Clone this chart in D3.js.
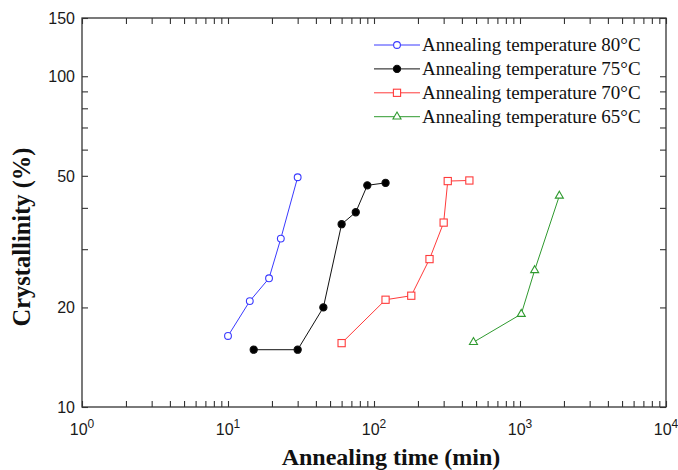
<!DOCTYPE html>
<html>
<head>
<meta charset="utf-8">
<script src="https://cdn.jsdelivr.net/npm/d3@7"></script>
<style>
  body { margin: 0; background: #fff; }
  svg { display: block; }
</style>
</head>
<body>
<svg id="chart" width="678" height="470"></svg>
<script>
// values (time in min, crystallinity in %)
const times80 = [10, 14.1, 19.1, 23, 30];
const cryst80 = [16.4, 20.9, 24.5, 32.3, 49.5];
const times75 = [15, 30, 45, 60, 75, 90, 120];
const cryst75 = [14.9, 14.9, 20.0, 35.7, 38.8, 46.8, 47.6];
const times70 = [60, 120, 180, 240, 300, 320, 450];
const cryst70 = [15.6, 21.1, 21.7, 28.0, 36.1, 48.2, 48.4];
const times65 = [480, 1020, 1260, 1860];
const cryst65 = [15.7, 19.1, 25.9, 43.5];

const seriesNames = ['Annealing temperature 80°C', 'Annealing temperature 75°C',
  'Annealing temperature 70°C', 'Annealing temperature 65°C'];

const xMajor = [1, 10, 100, 1000, 10000];
const xExp = ['0', '1', '2', '3', '4'];
const yMajor = [10, 20, 50, 100, 150];
const yMinor = [30, 40, 60, 70, 80, 90];

const series = [
  { name: seriesNames[0], x: times80, y: cryst80, color: '#3a3aff', marker: 'circle', fill: '#fff' },
  { name: seriesNames[1], x: times75, y: cryst75, color: '#111111', marker: 'circle', fill: '#000' },
  { name: seriesNames[2], x: times70, y: cryst70, color: '#ff3b3b', marker: 'square', fill: '#fff' },
  { name: seriesNames[3], x: times65, y: cryst65, color: '#2f9a2f', marker: 'triangle', fill: '#fff' }
];

const svg = d3.select('#chart');
const m = { left: 82, right: 666, top: 18, bottom: 407 };

const x = d3.scaleLog().domain([1, 10000]).range([m.left, m.right]);
const y = d3.scaleLog().domain([10, 150]).range([m.bottom, m.top]);

const xMinor = [];
xMajor.slice(0, -1).forEach(d => {
  for (let k = 2; k <= 9; k++) xMinor.push(d * k);
});
const xTicks = [...xMajor, ...xMinor];
const yTicks = [...yMajor, ...yMinor];

const axisColor = '#333';
const tick = 6;

function styleAxis(g) {
  g.select('.domain').remove();
  g.selectAll('.tick line').attr('stroke', axisColor).attr('stroke-width', 1.1);
  g.selectAll('.tick text').remove();
}

svg.append('g').attr('transform', `translate(0,${m.bottom})`)
  .call(d3.axisBottom(x).tickValues(xTicks).tickSize(-tick)).call(styleAxis);
svg.append('g').attr('transform', `translate(0,${m.top})`)
  .call(d3.axisTop(x).tickValues(xTicks).tickSize(-tick)).call(styleAxis);
svg.append('g').attr('transform', `translate(${m.left},0)`)
  .call(d3.axisLeft(y).tickValues(yTicks).tickSize(-tick)).call(styleAxis);
svg.append('g').attr('transform', `translate(${m.right},0)`)
  .call(d3.axisRight(y).tickValues(yTicks).tickSize(-tick)).call(styleAxis);

svg.append('rect')
  .attr('x', m.left).attr('y', m.top)
  .attr('width', m.right - m.left).attr('height', m.bottom - m.top)
  .attr('fill', 'none').attr('stroke', axisColor).attr('stroke-width', 1.3);

// tick labels
const xl = svg.append('g')
  .attr('font-family', '"Liberation Sans", Arial, sans-serif')
  .attr('fill', '#1a1a1a');
xMajor.forEach((d, i) => {
  const t = xl.append('text')
    .attr('x', x(d)).attr('y', 435)
    .attr('text-anchor', 'middle')
    .attr('font-size', 16);
  t.append('tspan').text('10');
  t.append('tspan').attr('font-size', 12).attr('dy', -7).text(xExp[i]);
});

svg.append('g')
  .attr('font-family', '"Liberation Sans", Arial, sans-serif')
  .attr('fill', '#1a1a1a')
  .selectAll('text')
  .data(yMajor)
  .join('text')
  .attr('x', m.left - 7)
  .attr('y', d => y(d))
  .attr('dy', '0.36em')
  .attr('text-anchor', 'end')
  .attr('font-size', 16)
  .text(d => d);

// axis titles
svg.append('text')
  .attr('x', 391).attr('y', 465)
  .attr('text-anchor', 'middle')
  .attr('font-family', '"Liberation Serif", "Times New Roman", serif')
  .attr('font-weight', 'bold')
  .attr('font-size', 24)
  .attr('fill', '#111')
  .text('Annealing time (min)');

svg.append('text')
  .attr('transform', 'translate(30,237) rotate(-90)')
  .attr('text-anchor', 'middle')
  .attr('font-family', '"Liberation Serif", "Times New Roman", serif')
  .attr('font-weight', 'bold')
  .attr('font-size', 24.5)
  .attr('fill', '#111')
  .text('Crystallinity (%)');

function drawMarker(g, s, cx, cy) {
  if (s.marker === 'circle') {
    g.append('circle').attr('cx', cx).attr('cy', cy)
      .attr('r', s.fill === '#fff' ? 3.4 : 3.6)
      .attr('fill', s.fill).attr('stroke', s.color).attr('stroke-width', 1.1);
  } else if (s.marker === 'square') {
    g.append('rect').attr('x', cx - 3.6).attr('y', cy - 3.6)
      .attr('width', 7.2).attr('height', 7.2)
      .attr('fill', s.fill).attr('stroke', s.color).attr('stroke-width', 1.1);
  } else {
    g.append('path')
      .attr('transform', `translate(${cx},${cy})`)
      .attr('d', d3.symbol(d3.symbolTriangle, 28)())
      .attr('fill', s.fill).attr('stroke', s.color).attr('stroke-width', 1.1);
  }
}

const line = d3.line().x(d => x(d[0])).y(d => y(d[1]));

series.forEach(s => {
  const pts = s.x.map((v, i) => [v, s.y[i]]);
  const g = svg.append('g');
  g.append('path')
    .attr('d', line(pts))
    .attr('fill', 'none')
    .attr('stroke', s.color)
    .attr('stroke-width', 1);
  pts.forEach(p => drawMarker(g, s, x(p[0]), y(p[1])));
});

// legend
const legend = svg.append('g');
series.forEach((s, i) => {
  const ly = 45 + i * 23.9;
  legend.append('line')
    .attr('x1', 374).attr('x2', 420)
    .attr('y1', ly).attr('y2', ly)
    .attr('stroke', s.color).attr('stroke-width', 1);
  drawMarker(legend, s, 397, ly);
  legend.append('text')
    .attr('x', 422).attr('y', ly)
    .attr('dy', '0.33em')
    .attr('font-family', '"Liberation Serif", "Times New Roman", serif')
    .attr('font-size', 19)
    .attr('fill', '#111')
    .text(s.name);
});
</script>
</body>
</html>
